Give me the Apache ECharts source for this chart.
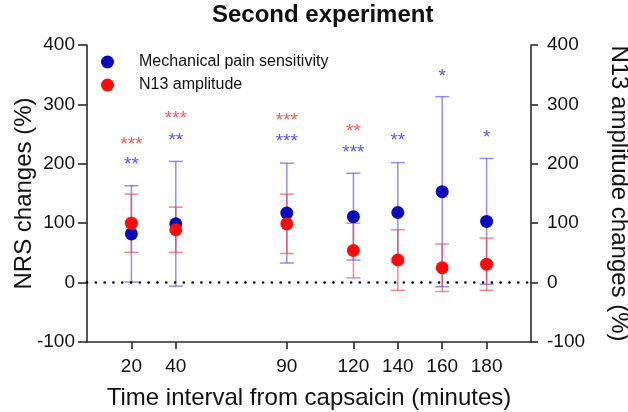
<!DOCTYPE html>
<html><head><meta charset="utf-8">
<script src="https://cdn.jsdelivr.net/npm/echarts@6/dist/echarts.min.js"></script>
<style>html,body{margin:0;padding:0;background:#fff}#c{width:628px;height:412px}</style>
</head><body><div id="c"></div>
<script>
// ---- data ----
const times = [20, 40, 90, 120, 140, 160, 180];
const nrsMean = [82, 99, 117, 111, 118, 153, 103];
const nrsSD = [81, 105, 84, 73, 84, 160, 106];
const n13Mean = [100, 89, 99, 54, 38, 25, 31];
const n13SD = [49, 38, 50, 46, 51, 40, 44];
const nrsStars = ['**', '**', '***', '***', '**', '*', '*'];
const nrsStarY = [205, 246, 243, 225, 246, 354, 250];
const n13Stars = ['***', '***', '***', '**', '', '', ''];
const n13StarY = [239, 283, 280, 260, null, null, null];
const xTicks = [20, 40, 90, 120, 140, 160, 180];

const FONT = "'Liberation Sans', Arial, sans-serif";
const BLUE = '#0a0ab8', RED = '#ff0a0a';
const BLUE_ERR = 'rgba(70,70,225,0.6)', RED_ERR = 'rgba(240,70,70,0.65)';
const BLUE_STAR = '#2b2bff', RED_STAR = '#ff2b2b';

function errSeries(name, mean, sd, color, yIdx) {
  return {
    type: 'custom', name: name, yAxisIndex: yIdx, silent: true, z: 2,
    data: times.map((t, i) => [t, mean[i] - sd[i], mean[i] + sd[i]]),
    encode: { x: 0, y: [1, 2] },
    renderItem: function (params, api) {
      const x = api.value(0);
      const lo = api.coord([x, api.value(1)]);
      const hi = api.coord([x, api.value(2)]);
      const w = 7;
      const style = { stroke: color, lineWidth: 1.5, fill: null };
      return { type: 'group', children: [
        { type: 'line', shape: { x1: lo[0], y1: lo[1], x2: hi[0], y2: hi[1] }, style: style },
        { type: 'line', shape: { x1: lo[0] - w, y1: lo[1], x2: lo[0] + w, y2: lo[1] }, style: style },
        { type: 'line', shape: { x1: hi[0] - w, y1: hi[1], x2: hi[0] + w, y2: hi[1] }, style: style }
      ]};
    }
  };
}

function starSeries(stars, ys, color, yIdx) {
  const data = [];
  times.forEach((t, i) => {
    if (stars[i] && ys[i] != null) data.push({ value: [t, ys[i]], label: { formatter: stars[i] } });
  });
  return {
    type: 'scatter', yAxisIndex: yIdx, symbolSize: 0, silent: true, z: 5,
    data: data,
    label: { show: true, position: 'inside', color: color, fontSize: 19, fontFamily: FONT, offset: [0, 4] }
  };
}

const axisLineStyle = { color: '#2a2a2a', width: 1.6 };

const option = {
  animation: false,
  backgroundColor: '#fff',
  title: {
    text: 'Second experiment', left: 212, top: 3, padding: 0,
    textStyle: { fontFamily: FONT, fontWeight: 'bold', fontSize: 24, color: '#111' }
  },
  legend: {
    orient: 'vertical', left: 96, top: 49, itemWidth: 13, itemHeight: 13, itemGap: 7,
    icon: 'circle',
    data: ['Mechanical pain sensitivity', 'N13 amplitude'],
    textStyle: { fontFamily: FONT, fontSize: 16, color: '#111', padding: [0, 0, 0, 20] }
  },
  grid: { left: 87, right: 97, top: 45, bottom: 70, containLabel: false, outerBoundsMode: 'none' },
  xAxis: {
    type: 'value', min: 0, max: 200,
    name: 'Time interval from capsaicin (minutes)', nameLocation: 'middle', nameGap: 44,
    nameTextStyle: { fontFamily: FONT, fontSize: 24, color: '#111' },
    axisLine: { show: true, onZero: false, lineStyle: axisLineStyle },
    axisTick: { show: true, length: 7, lineStyle: axisLineStyle, customValues: xTicks },
    axisLabel: { fontFamily: FONT, fontSize: 19, color: '#111', margin: 15, customValues: xTicks },
    splitLine: { show: false }
  },
  yAxis: [{
    type: 'value', min: -100, max: 400, interval: 100, position: 'left',
    name: 'NRS changes (%)', nameLocation: 'middle', nameRotate: 90, nameGap: 51,
    nameMoveOverlap: false,
    nameTextStyle: { fontFamily: FONT, fontSize: 24, color: '#111' },
    axisLine: { show: true, onZero: false, lineStyle: axisLineStyle },
    axisTick: { show: true, length: 9, lineStyle: axisLineStyle },
    axisLabel: { fontFamily: FONT, fontSize: 19, color: '#111', margin: 12 },
    splitLine: { show: false }
  }, {
    type: 'value', min: -100, max: 400, interval: 100, position: 'right',
    name: 'N13 amplitude changes (%)', nameLocation: 'middle', nameRotate: -90, nameGap: 76,
    nameTextStyle: { fontFamily: FONT, fontSize: 24, color: '#111' },
    axisLine: { show: true, onZero: false, lineStyle: axisLineStyle },
    axisTick: { show: true, length: 7, lineStyle: axisLineStyle },
    axisLabel: { fontFamily: FONT, fontSize: 19, color: '#111', margin: 16 },
    splitLine: { show: false }
  }],
  series: [
    errSeries('nrsErr', nrsMean, nrsSD, BLUE_ERR, 0),
    errSeries('n13Err', n13Mean, n13SD, RED_ERR, 1),
    {
      name: 'Mechanical pain sensitivity', type: 'scatter', yAxisIndex: 0, z: 3,
      symbol: 'circle', symbolSize: 13, itemStyle: { color: BLUE, opacity: 1 },
      data: times.map((t, i) => [t, nrsMean[i]]),
      markLine: {
        silent: true, symbol: 'none', label: { show: false },
        lineStyle: { color: '#000', width: 2.6, type: [0.1, 8.7], cap: 'round' },
        data: [{ yAxis: 0 }]
      }
    },
    {
      name: 'N13 amplitude', type: 'scatter', yAxisIndex: 1, z: 4,
      symbol: 'circle', symbolSize: 13, itemStyle: { color: RED, opacity: 1 },
      data: times.map((t, i) => [t, n13Mean[i]])
    },
    starSeries(nrsStars, nrsStarY, BLUE_STAR, 0),
    starSeries(n13Stars, n13StarY, RED_STAR, 1)
  ]
};

const chart = echarts.init(document.getElementById('c'), null, { renderer: 'canvas' });
chart.setOption(option);
</script>
</body></html>
